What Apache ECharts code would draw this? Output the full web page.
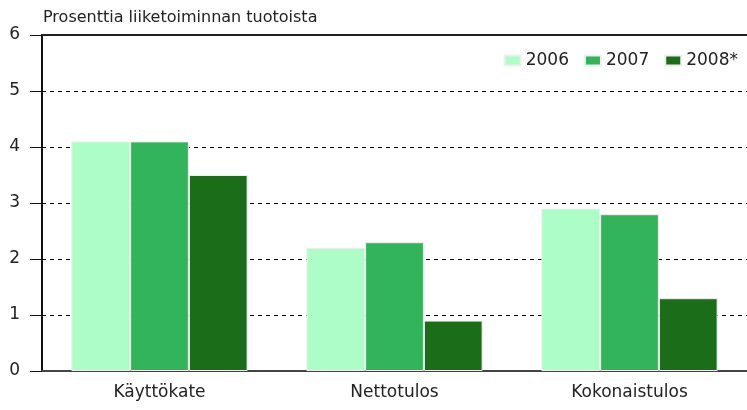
<!DOCTYPE html>
<html><head><meta charset="utf-8">
<script src="https://cdn.jsdelivr.net/npm/echarts@6/dist/echarts.min.js"></script>
<style>html,body{margin:0;padding:0;background:#fff}#c{width:747px;height:410px}</style>
</head><body><div id="c"></div>
<script>
const categories = ['Käyttökate', 'Nettotulos', 'Kokonaistulos'];
const seriesNames = ['2006', '2007', '2008*'];
const values2006 = [4.1, 2.2, 2.9];
const values2007 = [4.1, 2.3, 2.8];
const values2008 = [3.5, 0.9, 1.3];
const yTicks = [0, 1, 2, 3, 4, 5, 6];
const colors = ['#adfdc6', '#32b45a', '#1c6d1a'];
const allValues = [values2006, values2007, values2008];

const font = 'DejaVu Sans';
const chart = echarts.init(document.getElementById('c'), null, {renderer: 'canvas'});
chart.setOption({
  animation: false,
  textStyle: {fontFamily: font},
  title: {text: 'Prosenttia liiketoiminnan tuotoista', left: 38, top: 5,
    textStyle: {fontFamily: font, fontSize: 16, fontWeight: 'normal', color: '#222'}},
  legend: {right: 4, top: 47, itemWidth: 16, itemHeight: 10, itemGap: 15,
    icon: 'rect', data: seriesNames,
    textStyle: {fontFamily: font, fontSize: 17, color: '#222', padding: [0,0,0,0]}},
  grid: {left: 42, top: 35, width: 715, height: 336},
  xAxis: [{type: 'category', data: categories,
    axisLine: {lineStyle: {color: '#444', width: 2}},
    axisTick: {alignWithLabel: true, length: 8, lineStyle: {color: '#333', width: 2}},
    axisLabel: {fontFamily: font, fontSize: 17, color: '#222', margin: 13}},
   {type: 'category', position: 'top', data: categories,
    axisLine: {show: true, lineStyle: {color: '#222', width: 2}},
    axisTick: {show: false}, axisLabel: {show: false}}],
  yAxis: {type: 'value', min: yTicks[0], max: yTicks[yTicks.length-1], interval: 1,
    axisLine: {show: true, lineStyle: {color: '#111', width: 2}},
    axisTick: {show: true, inside: false, length: 12, lineStyle: {color: '#111', width: 1}},
    axisLabel: {fontFamily: font, fontSize: 17, color: '#222', margin: 22},
    splitLine: {lineStyle: {color: '#000', type: [4, 4], width: 1}}},
  series: seriesNames.map((n, i) => ({
    name: n, type: 'bar', data: allValues[i], barGap: '0%', barCategoryGap: '25%',
    itemStyle: {color: colors[i], borderColor: '#eeeeee', borderWidth: 1}
  }))
});
</script></body></html>
